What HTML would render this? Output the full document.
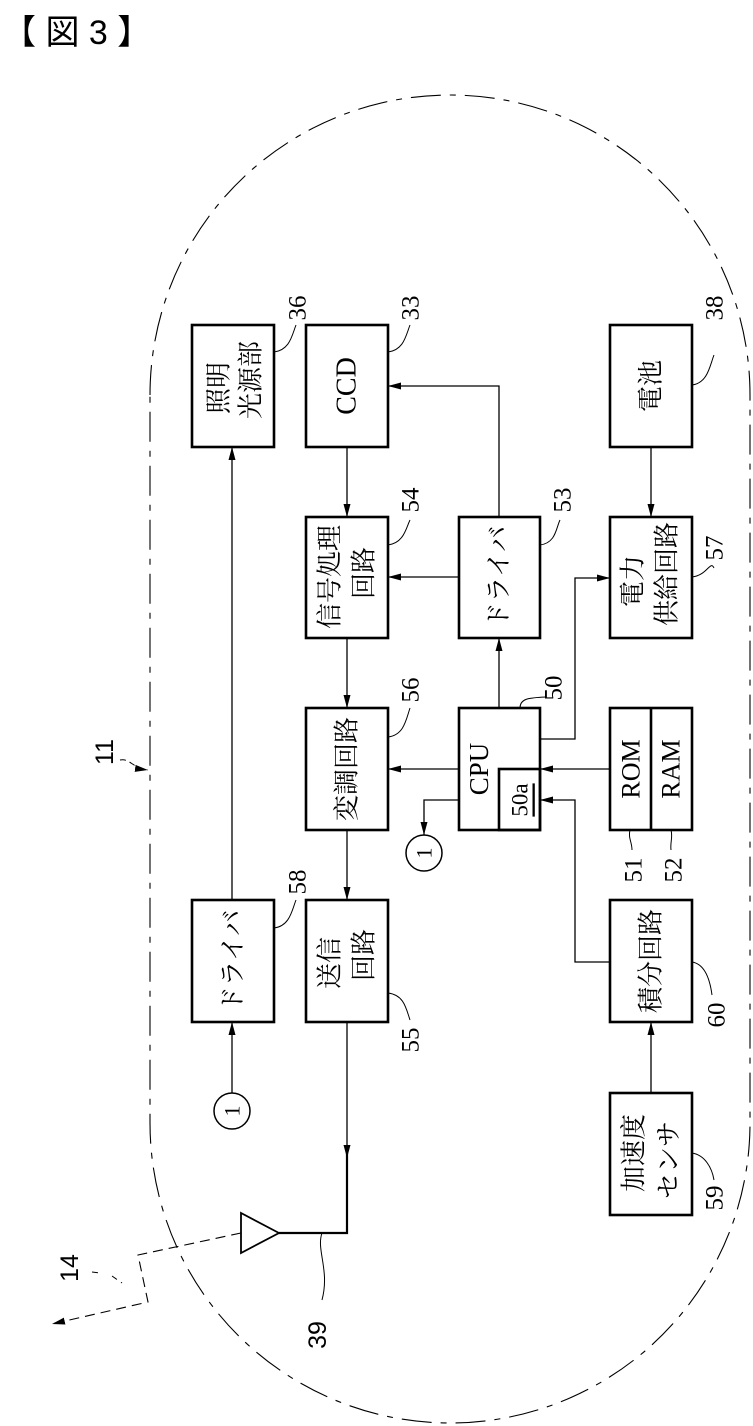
<!DOCTYPE html>
<html><head><meta charset="utf-8"><style>
html,body{margin:0;padding:0;background:#fff;}
svg{display:block;}
text{font-family:"Liberation Serif","Noto Serif CJK SC","Noto Sans CJK JP",serif;fill:#000;}
.j{font-family:"Liberation Serif","Noto Sans CJK JP",sans-serif;font-size:26px;}
.n{font-family:"Liberation Sans",sans-serif;font-size:25px;}
.b{fill:none;stroke:#000;stroke-width:2.6;}
.l{fill:none;stroke:#000;stroke-width:1.3;}
.ld{fill:none;stroke:#000;stroke-width:1;}
</style></head><body>
<svg width="753" height="1426" viewBox="0 0 753 1426" xmlns="http://www.w3.org/2000/svg">
<defs>
<marker id="a" markerUnits="userSpaceOnUse" markerWidth="14" markerHeight="8" refX="13" refY="4" orient="auto">
<path d="M0,0.5 L13,4 L0,7.5 z" fill="#000"/></marker>
</defs>
<text x="2" y="44" style="font-family:'Liberation Sans','Noto Sans CJK JP',sans-serif;font-size:34px">【 図 3 】</text>

<path d="M150,395 A300,300 0 0 1 750,395 L750,1123 A300,300 0 0 1 150,1123 Z" fill="none" stroke="#000" stroke-width="1.1" stroke-dasharray="30 9 6 9"/>

<rect class="b" x="192" y="325" width="82" height="122"/>
<rect class="b" x="306" y="325" width="82" height="122"/>
<rect class="b" x="610" y="325" width="82" height="122"/>
<rect class="b" x="306" y="517" width="82" height="121"/>
<rect class="b" x="459" y="517" width="81" height="121"/>
<rect class="b" x="610" y="517" width="82" height="121"/>
<rect class="b" x="306" y="708" width="82" height="122"/>
<rect class="b" x="459" y="708" width="81" height="122"/>
<rect class="b" x="499" y="769" width="41" height="61"/>
<rect class="b" x="610" y="708" width="82" height="122"/>
<line class="b" x1="651" y1="708" x2="651" y2="830"/>
<rect class="b" x="192" y="900" width="82" height="122"/>
<rect class="b" x="306" y="900" width="82" height="122"/>
<rect class="b" x="610" y="900" width="82" height="122"/>
<rect class="b" x="610" y="1093" width="82" height="122"/>

<g class="j">
<text transform="translate(219,388) rotate(-90)" text-anchor="middle" dominant-baseline="central">照明</text>
<text transform="translate(251,380) rotate(-90)" text-anchor="middle" dominant-baseline="central">光源部</text>
<text transform="translate(347,386) rotate(-90)" text-anchor="middle" dominant-baseline="central" style="font-family:'Liberation Serif',serif;font-size:28px">CCD</text>
<text transform="translate(651,386) rotate(-90)" text-anchor="middle" dominant-baseline="central">電池</text>
<text transform="translate(330,577) rotate(-90)" text-anchor="middle" dominant-baseline="central">信号処理</text>
<text transform="translate(364,573) rotate(-90)" text-anchor="middle" dominant-baseline="central">回路</text>
<text transform="translate(499,577) rotate(-90)" text-anchor="middle" dominant-baseline="central">ドライバ</text>
<text transform="translate(633,581) rotate(-90)" text-anchor="middle" dominant-baseline="central">電力</text>
<text transform="translate(667,574) rotate(-90)" text-anchor="middle" dominant-baseline="central">供給回路</text>
<text transform="translate(347,769) rotate(-90)" text-anchor="middle" dominant-baseline="central">変調回路</text>
<text transform="translate(479,769) rotate(-90)" text-anchor="middle" dominant-baseline="central" style="font-family:'Liberation Serif',serif;font-size:27px">CPU</text>
<text transform="translate(520,800) rotate(-90)" text-anchor="middle" dominant-baseline="central" style="font-family:'Liberation Serif',serif;font-size:23px;text-decoration:underline">50a</text>
<text transform="translate(631,769) rotate(-90)" text-anchor="middle" dominant-baseline="central" style="font-family:'Liberation Serif',serif;font-size:26px">ROM</text>
<text transform="translate(671,769) rotate(-90)" text-anchor="middle" dominant-baseline="central" style="font-family:'Liberation Serif',serif;font-size:26px">RAM</text>
<text transform="translate(233,961) rotate(-90)" text-anchor="middle" dominant-baseline="central">ドライバ</text>
<text transform="translate(330,963) rotate(-90)" text-anchor="middle" dominant-baseline="central">送信</text>
<text transform="translate(364,955) rotate(-90)" text-anchor="middle" dominant-baseline="central">回路</text>
<text transform="translate(651,961) rotate(-90)" text-anchor="middle" dominant-baseline="central">積分回路</text>
<text transform="translate(634,1153) rotate(-90)" text-anchor="middle" dominant-baseline="central">加速度</text>
<text transform="translate(669,1160) rotate(-90)" text-anchor="middle" dominant-baseline="central">センサ</text>
</g>

<line class="l" x1="232" y1="900" x2="232" y2="447" marker-end="url(#a)"/>
<line class="l" x1="232" y1="1093" x2="232" y2="1022" marker-end="url(#a)"/>
<circle cx="232" cy="1111" r="18" fill="none" stroke="#000" stroke-width="1.5"/>
<text transform="translate(232,1111) rotate(-90)" text-anchor="middle" dominant-baseline="central" style="font-size:22px">1</text>

<line class="l" x1="347" y1="447" x2="347" y2="517" marker-end="url(#a)"/>
<line class="l" x1="347" y1="638" x2="347" y2="708" marker-end="url(#a)"/>
<line class="l" x1="347" y1="830" x2="347" y2="900" marker-end="url(#a)"/>
<path class="l" d="M499,517 L499,386 L388,386" marker-end="url(#a)"/>
<line class="l" x1="459" y1="577" x2="388" y2="577" marker-end="url(#a)"/>
<line class="l" x1="499" y1="708" x2="499" y2="638" marker-end="url(#a)"/>
<path class="l" d="M540,739 L575,739 L575,578 L610,578" marker-end="url(#a)"/>
<line class="l" x1="651" y1="447" x2="651" y2="517" marker-end="url(#a)"/>
<line class="l" x1="459" y1="769" x2="388" y2="769" marker-end="url(#a)"/>
<line class="l" x1="610" y1="769" x2="540" y2="769" marker-end="url(#a)"/>
<path class="l" d="M610,962 L575,962 L575,800 L540,800" marker-end="url(#a)"/>
<path class="l" d="M459,800 L424,800 L424,835" marker-end="url(#a)"/>
<circle cx="424" cy="853" r="18" fill="none" stroke="#000" stroke-width="1.5"/>
<text transform="translate(424,853) rotate(-90)" text-anchor="middle" dominant-baseline="central" style="font-size:22px">1</text>
<line class="l" x1="651" y1="1093" x2="651" y2="1022" marker-end="url(#a)"/>

<line class="l" x1="347" y1="1022" x2="347" y2="1158" marker-end="url(#a)"/>
<path d="M347,1150 L347,1233 L279,1233" fill="none" stroke="#000" stroke-width="2.2"/>
<path d="M279,1233 L241,1213 L241,1253 Z" fill="#fff" stroke="#000" stroke-width="1.8"/>
<path d="M241,1233 L138,1255 L148,1302 L52,1324" fill="none" stroke="#000" stroke-width="1.1" stroke-dasharray="10 6" marker-end="url(#a)"/>
<path class="ld" d="M92,1272 L100,1273 M112,1276 L122,1283" stroke-dasharray="6 5"/>
<text transform="translate(70,1268) rotate(-90)" text-anchor="middle" dominant-baseline="central" class="n">14</text>
<path class="ld" d="M322,1233 C316,1250 330,1270 322,1300"/>
<text transform="translate(318,1335) rotate(-90)" text-anchor="middle" dominant-baseline="central" class="n">39</text>

<text transform="translate(105,752) rotate(-90)" text-anchor="middle" dominant-baseline="central" class="n">11</text>
<path d="M120,760 C130,758 132,768 148,770" fill="none" stroke="#000" stroke-width="1" stroke-dasharray="6 4" marker-end="url(#a)"/>

<g class="n">
<text transform="translate(298,308) rotate(-90)" text-anchor="middle" dominant-baseline="central">36</text>
<text transform="translate(411,308) rotate(-90)" text-anchor="middle" dominant-baseline="central">33</text>
<text transform="translate(715,308) rotate(-90)" text-anchor="middle" dominant-baseline="central">38</text>
<text transform="translate(411,500) rotate(-90)" text-anchor="middle" dominant-baseline="central">54</text>
<text transform="translate(563,500) rotate(-90)" text-anchor="middle" dominant-baseline="central">53</text>
<text transform="translate(715,548) rotate(-90)" text-anchor="middle" dominant-baseline="central">57</text>
<text transform="translate(554,688) rotate(-90)" text-anchor="middle" dominant-baseline="central">50</text>
<text transform="translate(411,690) rotate(-90)" text-anchor="middle" dominant-baseline="central">56</text>
<text transform="translate(298,882) rotate(-90)" text-anchor="middle" dominant-baseline="central">58</text>
<text transform="translate(411,1040) rotate(-90)" text-anchor="middle" dominant-baseline="central">55</text>
<text transform="translate(634,870) rotate(-90)" text-anchor="middle" dominant-baseline="central">51</text>
<text transform="translate(674,870) rotate(-90)" text-anchor="middle" dominant-baseline="central">52</text>
<text transform="translate(717,1015) rotate(-90)" text-anchor="middle" dominant-baseline="central">60</text>
<text transform="translate(715,1198) rotate(-90)" text-anchor="middle" dominant-baseline="central">59</text>
</g>
<g class="ld">
<path d="M274,352 C290,350 292,335 296,325"/>
<path d="M388,352 C404,350 406,335 410,325"/>
<path d="M692,385 C708,383 710,365 714,355"/>
<path d="M388,545 C404,543 406,528 410,520"/>
<path d="M540,545 C556,543 556,528 560,520"/>
<path d="M692,577 C708,575 710,560 714,568"/>
<path d="M520,708 C520,698 530,698 545,697"/>
<path d="M388,737 C404,735 406,720 410,708"/>
<path d="M274,928 C290,926 292,910 296,900"/>
<path d="M388,993 C404,995 406,1008 410,1020"/>
<path d="M630,830 C628,838 632,842 632,850"/>
<path d="M671,830 C673,838 670,842 671,850"/>
<path d="M692,962 C705,964 710,980 712,995"/>
<path d="M692,1153 C705,1155 712,1168 714,1180"/>
</g>
</svg>
</body></html>
